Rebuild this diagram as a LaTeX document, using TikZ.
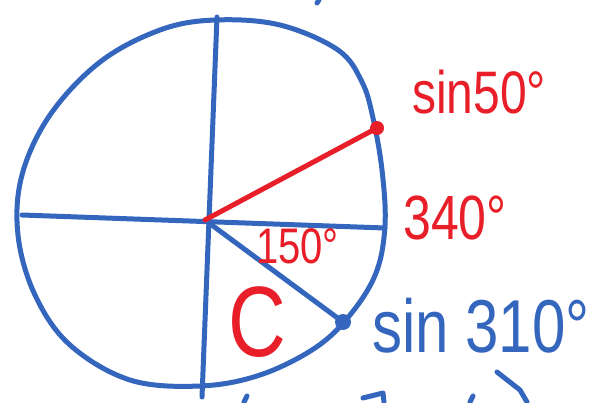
\documentclass[tikz,border=0pt]{standalone}
\usepackage{fontspec}
\setmainfont{Liberation Sans}
\usepackage{xcolor}
\usetikzlibrary{positioning}
\definecolor{tinta}{RGB}{52,102,190}
\definecolor{verm}{RGB}{232,30,40}
\tikzset{
  traco/.style={draw=tinta, line width=5pt, line cap=round, line join=round},
  tracov/.style={draw=verm, line width=5pt, line cap=round},
  ponto/.style={circle, inner sep=0pt, minimum size=#1},
  ponto/.default=14pt,
  rotulo/.style={inner sep=0pt, anchor=west, yscale=1.25, transform shape, font=\fontsize{#1}{#1}\selectfont},
}

\begin{document}
\begin{tikzpicture}[x=1pt,y=-1pt]
  \useasboundingbox (0,0) rectangle (589,402);
  % circle drawn by hand
  \draw[traco] plot[smooth cycle, tension=0.6] coordinates {
    (215,20) (280,25) (338,50) (362,82) (373,118) (382,170) (385,225)
    (376,273) (350,315) (315,348) (260,375) (200,386) (130,380)
    (70,345) (35,295) (18,235) (22,175) (50,115) (100,62) (160,30)};
  % axes
  \coordinate (O) at (205,220);
  \draw[traco] (217,17) -- (202,397);
  \draw[traco] (22,215) -- (385,228);
  % angles
  \coordinate (P50) at (377,128);
  \coordinate (P310) at (343,322);
  \draw[traco] (O) -- (P310);
  \draw[tracov] (O) -- (P50);
  \node[ponto, fill=verm] (d50) at (P50) {};
  \node[ponto=16pt, fill=tinta] (d310) at (P310) {};
  % labels
  \node[rotulo=48, text=verm] (sen50) at (412,92) {sin50°};
  \node[rotulo=50, text=verm] (ang340) at (403,218) {340°};
  \node[rotulo=40, text=verm] (ang150) at (256,246) {150°};
  \node[rotulo=80, text=verm] (letraC) at (228,322) {C};
  \node[rotulo=60, text=tinta] (sen310) at (372,326) {sin 310°};
  % cut off strokes at the edges
  \draw[traco] (317,3) -- (319,0);
  \draw[traco] (247,396) -- (244,402);
  \draw[traco] (363,398) -- (383,393) -- (384,402);
  \draw[traco] (473,396) -- (470,402);
  \draw[traco] (497,372) -- (520,390) -- (527,402);
\end{tikzpicture}
\end{document}
